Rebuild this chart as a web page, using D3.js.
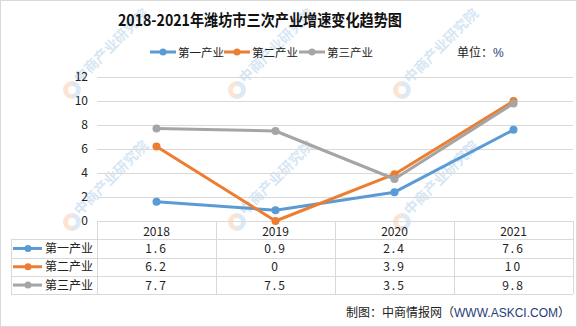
<!DOCTYPE html>
<html><head><meta charset="utf-8">
<script src="https://cdn.jsdelivr.net/npm/d3@7/dist/d3.min.js"></script>
<style>
html,body{margin:0;padding:0;background:#fff;}
svg{display:block;}
text{font-family:"Noto Sans CJK SC","Liberation Sans",sans-serif;}
</style></head>
<body>
<script>
const title = "2018-2021年潍坊市三次产业增速变化趋势图";
const years = ["2018","2019","2020","2021"];
const seriesNames = ["第一产业","第二产业","第三产业"];
const primary = [1.6, 0.9, 2.4, 7.6];
const secondary = [6.2, 0, 3.9, 10];
const tertiary = [7.7, 7.5, 3.5, 9.8];
const yTicks = [0, 2, 4, 6, 8, 10, 12];
const colors = ["#5b9bd5", "#ed7d31", "#a5a5a5"];
const unitLabel = "单位：";
const unitSymbol = "%";
const sourcePrefix = "制图：中商情报网（";
const sourceSite = "WWW.ASKCI.COM";
const sourceSuffix = "）";
const watermark = "中商产业研究院";

const series = seriesNames.map((n, i) => ({name: n, values: [primary, secondary, tertiary][i], color: colors[i]}));

const W = 577, H = 327;
const svg = d3.select("body").append("svg").attr("width", W).attr("height", H);

// border
svg.append("rect").attr("x",0.5).attr("y",0.5).attr("width",W-1).attr("height",H-1)
  .attr("fill","#fff").attr("stroke","#d9d9d9");

// watermarks (only those that fit fully inside)
const wm = svg.append("g").attr("pointer-events","none");
for (let j = 0; j <= 1; j++) {
  for (let i = 0; i <= 2; i++) {
    const cx = 72 + 165*i, cy = 90 + 132*j;
    const g = wm.append("g").attr("transform", `translate(${cx},${cy})`);
    g.append("path").attr("d", d3.arc()({innerRadius:4, outerRadius:9, startAngle:Math.PI, endAngle:2*Math.PI}))
      .attr("fill","#f4b183").attr("opacity",0.35);
    g.append("path").attr("d", d3.arc()({innerRadius:4, outerRadius:9, startAngle:0, endAngle:Math.PI}))
      .attr("fill","#9dc3e6").attr("opacity",0.35);
    g.append("text").attr("transform","translate(8,-6) rotate(-45)")
      .attr("font-size",14).attr("font-weight","bold").attr("fill","#bdd7ee").attr("opacity",0.6)
      .text(watermark);
  }
}

// scales
const x = d3.scaleBand().domain(years).range([97, 573]).padding(0);
const y = d3.scaleLinear().domain([0, 12]).range([221, 77]);

// title
svg.append("text").attr("x", 260).attr("y", 26).attr("text-anchor","middle")
  .attr("font-size",16).attr("font-weight","bold").attr("fill","#111")
  .attr("textLength",284).attr("lengthAdjust","spacingAndGlyphs")
  .text(title);

// top legend
const legendX = [150, 224, 299];
series.forEach((s, i) => {
  const g = svg.append("g").attr("transform", `translate(${legendX[i]},52)`);
  g.append("line").attr("x1",0).attr("x2",26).attr("y1",0).attr("y2",0).attr("stroke",s.color).attr("stroke-width",3);
  g.append("circle").attr("cx",13).attr("r",3.5).attr("fill",s.color);
  g.append("text").attr("x",28).attr("y",4.5).attr("font-size",11.5).attr("fill","#222").text(s.name);
});
const unit = svg.append("text").attr("x",457).attr("y",57).attr("font-size",12).attr("fill","#222");
unit.append("tspan").text(unitLabel);
unit.append("tspan").attr("fill","#1f3d7a").attr("font-family","'Liberation Sans',sans-serif").text(unitSymbol);

// y axis with gridlines
const yAxis = d3.axisLeft(y).tickValues(yTicks).tickSize(-(573-97)).tickPadding(9);
const ya = svg.append("g").attr("transform","translate(97,0)").call(yAxis);
ya.select(".domain").remove();
ya.selectAll(".tick line").attr("stroke","#d9d9d9").attr("stroke-width",1);
ya.selectAll(".tick text").attr("font-size",12).attr("fill","#222")
  .attr("font-family","'Liberation Sans',sans-serif");

// table
const rowTop = 221, rowH = 18.3;
const tg = svg.append("g").attr("stroke","#d9d9d9").attr("stroke-width",1).attr("shape-rendering","crispEdges");
tg.append("line").attr("x1",97).attr("x2",573).attr("y1",rowTop).attr("y2",rowTop);
for (let r = 1; r <= series.length + 1; r++) {
  const yy = Math.round(rowTop + r*rowH);
  tg.append("line").attr("x1",11).attr("x2",573).attr("y1",yy).attr("y2",yy);
}
const tableBottom = Math.round(rowTop + (series.length+1)*rowH);
years.concat(["end"]).forEach((yr, k) => {
  const xx = k < years.length ? x(yr) : x.range()[1];
  tg.append("line").attr("x1",xx).attr("x2",xx).attr("y1",rowTop).attr("y2",tableBottom);
});
tg.append("line").attr("x1",11).attr("x2",11).attr("y1",Math.round(rowTop+rowH)).attr("y2",tableBottom);

// year header (x axis)
const xAxis = d3.axisBottom(x).tickSize(0).tickPadding(0);
const xa = svg.append("g").attr("transform",`translate(0,${rowTop})`).call(xAxis);
xa.select(".domain").remove();
xa.selectAll(".tick text").attr("dy",null).attr("y",15).attr("font-size",12).attr("fill","#222")
  .attr("font-family","'Liberation Sans',sans-serif");

// table rows
series.forEach((s, i) => {
  const cyRow = rowTop + (i+1.5)*rowH;
  const g = svg.append("g");
  g.append("line").attr("x1",13).attr("x2",42).attr("y1",cyRow).attr("y2",cyRow).attr("stroke",s.color).attr("stroke-width",3);
  g.append("circle").attr("cx",28).attr("cy",cyRow).attr("r",3.5).attr("fill",s.color);
  g.append("text").attr("x",45).attr("y",cyRow+4.5).attr("font-size",12).attr("fill","#222").text(s.name);
  g.selectAll("text.v").data(s.values).join("text").attr("class","v")
    .attr("x",(d,k)=>x(years[k])+x.bandwidth()/2).attr("y",cyRow+4.5)
    .attr("text-anchor","middle").attr("font-size",12).attr("fill","#222")
    .attr("letter-spacing",2).attr("font-family","'Liberation Mono','DejaVu Sans Mono',monospace")
    .text(d=>d);
});

// lines
const line = d3.line().x((d,k)=>x(years[k])+x.bandwidth()/2).y(d=>y(d));
series.forEach(s => {
  svg.append("path").datum(s.values).attr("d",line).attr("fill","none")
    .attr("stroke",s.color).attr("stroke-width",3).attr("stroke-linejoin","round");
  svg.selectAll(null).data(s.values).join("circle")
    .attr("cx",(d,k)=>x(years[k])+x.bandwidth()/2).attr("cy",d=>y(d)).attr("r",4).attr("fill",s.color);
});

// source
const src = svg.append("text").attr("x",570).attr("y",317).attr("text-anchor","end").attr("font-size",12).attr("fill","#222");
src.append("tspan").text(sourcePrefix);
src.append("tspan").attr("fill","#1f3d7a").attr("font-family","'Liberation Sans',sans-serif").text(sourceSite);
src.append("tspan").text(sourceSuffix);
</script>
</body></html>
